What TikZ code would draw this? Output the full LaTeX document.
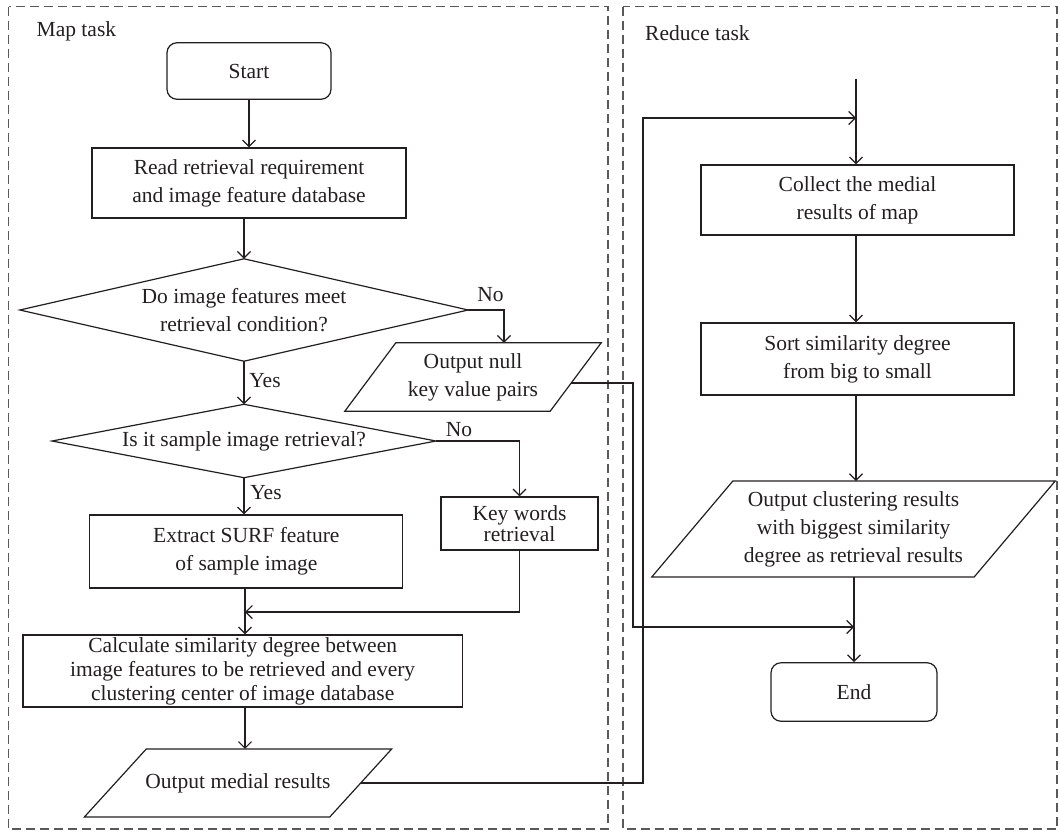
\documentclass[tikz,border=0pt]{standalone}
\usepackage{fontspec}
\setmainfont{Liberation Serif}
\usetikzlibrary{arrows.meta,calc}
\definecolor{ink}{HTML}{231F20}
\definecolor{lanec}{HTML}{58595B}
\begin{document}
\begin{tikzpicture}[x=1pt,y=-1pt,
  font=\fontsize{21.5}{28}\selectfont,
  box/.style={draw=ink, line width=1.2pt, text=ink, align=center, inner sep=0pt},
  term/.style={box, rounded corners=10pt},
  hid/.style={align=center, text=ink, inner sep=0pt},
  lbl/.style={text=ink, inner sep=0pt},
  ln/.style={draw=ink, line width=1.2pt},
  arr/.style={draw=ink, line width=1.2pt, -{Straight Barb[length=6.5pt,width=13pt]}},
  lane/.style={draw=lanec, line width=1.1pt, dash pattern=on 9pt off 5pt}]
\useasboundingbox (0,0) rectangle (1060,833);
% lanes
\draw[lane] (8.5,6.5) rectangle (608,829);
\draw[lane] (623,6.5) rectangle (1057,829);
\node[lbl, anchor=base west] (maplbl) at (36.5,36) {Map task};
\node[lbl, anchor=base west] (redlbl) at (645,40) {Reduce task};
% map column
\node[term, minimum width=164pt, minimum height=56.5pt] (start) at (249,71) {Start};
\node[box, minimum width=314pt, minimum height=70pt] (read) at (249,183) {Read retrieval requirement\\and image feature database};
\node[hid, minimum width=448pt, minimum height=102pt] (d1) at (244,310) {Do image features meet\\retrieval condition?};
\draw[ln] (d1.north) -- (d1.east) -- (d1.south) -- (d1.west) -- cycle;
\node[hid, minimum width=205pt, minimum height=68pt] (null) at (473,377) {Output null\\key value pairs};
\draw[ln] ([xshift=25.5pt]null.north west) -- ([xshift=25.5pt]null.north east) -- ([xshift=-25.5pt]null.south east) -- ([xshift=-25.5pt]null.south west) -- cycle;
\node[hid, minimum width=383.6pt, minimum height=73pt] (d2) at (244,441) {Is it sample image retrieval?};
\draw[ln] (d2.north) -- (d2.east) -- (d2.south) -- (d2.west) -- cycle;
\node[box, minimum width=157pt, minimum height=53pt, font=\fontsize{21.5}{21}\selectfont] (key) at (519.5,523.5) {Key words\\retrieval};
\node[box, minimum width=313pt, minimum height=73pt] (extract) at (246.3,551.5) {Extract SURF feature\\of sample image};
\node[box, minimum width=439.5pt, minimum height=72pt, font=\fontsize{21.5}{24}\selectfont] (calc) at (242.7,671) {Calculate similarity degree between\\image features to be retrieved and every\\clustering center of image database};
\node[hid, minimum width=245pt, minimum height=67.7pt] (medial) at (238,783) {Output medial results};
\draw[ln] ([xshift=31pt]medial.north west) -- ([xshift=31pt]medial.north east) -- ([xshift=-31pt]medial.south east) -- ([xshift=-31pt]medial.south west) -- cycle;
% reduce column
\node[box, minimum width=313pt, minimum height=70pt] (collect) at (857.5,200) {Collect the medial\\results of map};
\node[box, minimum width=313pt, minimum height=72pt] (sort) at (857.5,359) {Sort similarity degree\\from big to small};
\node[hid, minimum width=322pt, minimum height=95.5pt] (clus) at (853.5,529) {Output clustering results\\with biggest similarity\\degree as retrieval results};
\draw[ln] ([xshift=40.5pt]clus.north west) -- ([xshift=40.5pt]clus.north east) -- ([xshift=-40.5pt]clus.south east) -- ([xshift=-40.5pt]clus.south west) -- cycle;
\node[term, minimum width=166pt, minimum height=58.5pt] (endn) at (854,692) {End};
% helper coordinates
\coordinate (nullin) at ([xshift=31pt]null.north);
\coordinate (nullout) at ($([xshift=25.5pt]null.north east)!0.588!([xshift=-25.5pt]null.south east)$);
\coordinate (merge) at (245,612);
\coordinate (bus1) at (643,118);
\coordinate (bus2) at (633,627);
\coordinate (topin) at (856,78.5);
% labels
\node[lbl] (no1) at (490.5,295) {No};
\node[lbl] (yes1) at (265,381) {Yes};
\node[lbl] (no2) at (459,430) {No};
\node[lbl] (yes2) at (266,493) {Yes};
% connectors
\draw[arr] (start.south) -- (start.south |- read.north);
\draw[arr] (d1.north |- read.south) -- (d1.north);
\draw[arr] (d1.east) -| (nullin);
\draw[arr] (d1.south) -- (d2.north);
\draw[arr] (d2.east) -| (key.north);
\draw[arr] (d2.south) -- (d2.south |- extract.north);
\draw[ln] (extract.south -| merge) -- (merge);
\draw[arr] (key.south) |- (merge);
\draw[arr] (merge) -- (merge |- calc.north);
\draw[arr] (calc.south -| merge) -- (merge |- medial.north);
\draw[arr] (medial.east) -| (bus1) -- (bus1 -| topin);
\draw[arr] (topin) -- (topin |- collect.north);
\draw[arr] (collect.south -| topin) -- (topin |- sort.north);
\draw[arr] (sort.south -| topin) -- (topin |- clus.north);
\draw[ln] (clus.south -| endn.north) -- (endn.north |- bus2);
\draw[arr] (endn.north |- bus2) -- (endn.north);
\draw[arr] (nullout) -| (bus2) -- (bus2 -| endn.north);
\end{tikzpicture}
\end{document}
